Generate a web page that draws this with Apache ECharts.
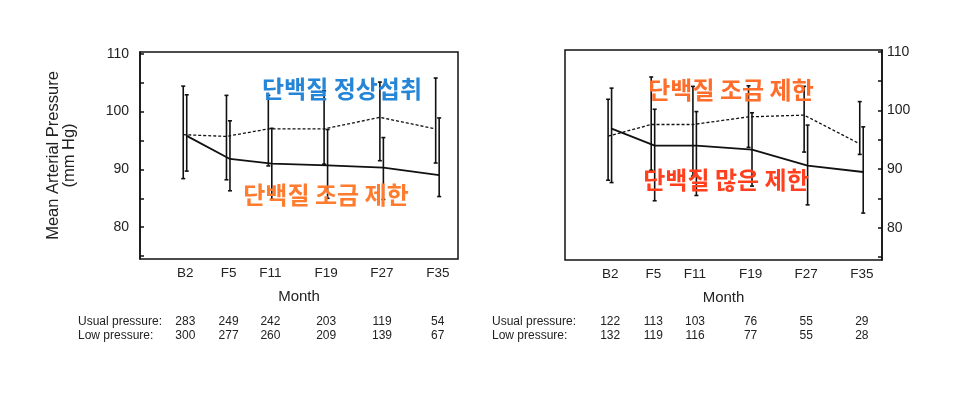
<!DOCTYPE html>
<html>
<head>
<meta charset="utf-8">
<script src="https://cdn.jsdelivr.net/npm/echarts@6/dist/echarts.min.js"></script>
<style>
  html, body { margin: 0; padding: 0; background: #fff; }
  #chart { width: 962px; height: 397px; }
</style>
</head>
<body>
<div id="chart"></div>
<script>
// 시점 (x축 위치는 개월 수)
const months = ['B2', 'F5', 'F11', 'F19', 'F27', 'F35'];
const monthX = [-1.2, 5, 11, 19, 27, 35];

// 왼쪽: 단백질 정상섭취(점선) / 단백질 조금 제한(실선)
const leftDashMean = [96, 95.7, 97, 97, 99, 97];
const leftDashLow = [88.4, 88.2, 90.6, 90.9, 91.5, 91.1];
const leftDashHigh = [104.4, 102.8, 102.8, 103.6, 105.1, 105.8];
const leftSolidMean = [95.8, 91.8, 91, 90.7, 90.3, 89];
const leftSolidLow = [89.7, 86.3, 84.8, 85, 84.8, 85.3];
const leftSolidHigh = [102.9, 98.4, 97.1, 96.9, 95.5, 98.9];
const leftUsualN = [283, 249, 242, 203, 119, 54];
const leftLowN = [300, 277, 260, 209, 139, 67];

// 오른쪽: 단백질 조금 제한(점선) / 단백질 많은 제한(실선)
const rightDashMean = [95.6, 97.6, 97.6, 98.9, 99.2, 94.3];
const rightDashLow = [88.1, 89.8, 88.8, 93.7, 92.9, 92.5];
const rightDashHigh = [101.9, 105.7, 104.1, 104.2, 104.1, 101.5];
const rightSolidMean = [96.9, 94.0, 94.0, 93.3, 90.6, 89.5];
const rightSolidLow = [87.7, 84.6, 85.5, 87.1, 83.9, 82.5];
const rightSolidHigh = [103.8, 100.2, 99.8, 99.6, 97.5, 97.2];
const rightUsualN = [122, 113, 103, 76, 55, 29];
const rightLowN = [132, 119, 116, 77, 55, 28];

const yTicks = [75, 80, 85, 90, 95, 100, 105, 110];
const yLabels = [80, 90, 100, 110];

const FONT = '"Liberation Sans", Arial, Helvetica, sans-serif';
const INK = '#111';

const chart = echarts.init(document.getElementById('chart'));

const errorBarItem = (params, api) => {
  const x = api.value(0);
  const lo = api.coord([x, api.value(1)]);
  const hi = api.coord([x, api.value(2)]);
  const cap = 2;
  const style = { stroke: INK, lineWidth: 1.6 };
  return {
    type: 'group',
    children: [
      { type: 'line', shape: { x1: lo[0], y1: lo[1], x2: hi[0], y2: hi[1] }, style },
      { type: 'line', shape: { x1: lo[0] - cap, y1: lo[1], x2: lo[0] + cap, y2: lo[1] }, style },
      { type: 'line', shape: { x1: hi[0] - cap, y1: hi[1], x2: hi[0] + cap, y2: hi[1] }, style },
    ],
  };
};

const pts = (mean, shift) => monthX.map((x, i) => [x + shift, mean[i]]);
const bars = (low, high, shift) => monthX.map((x, i) => [x + shift, low[i], high[i]]);

const makeSeries = (axis, dashMean, dashLow, dashHigh, solidMean, solidLow, solidHigh) => [
  {
    type: 'line', xAxisIndex: axis, yAxisIndex: axis / 3,
    data: pts(dashMean, -0.3), symbol: 'none', silent: true,
    lineStyle: { color: INK, width: 1.3, type: [3, 2] },
  },
  {
    type: 'line', xAxisIndex: axis, yAxisIndex: axis / 3,
    data: pts(solidMean, 0.2), symbol: 'none', silent: true,
    lineStyle: { color: INK, width: 1.8 },
  },
  {
    type: 'custom', xAxisIndex: axis, yAxisIndex: axis / 3,
    renderItem: errorBarItem, encode: { x: 0, y: [1, 2] }, silent: true,
    data: bars(dashLow, dashHigh, -0.3),
  },
  {
    type: 'custom', xAxisIndex: axis, yAxisIndex: axis / 3,
    renderItem: errorBarItem, encode: { x: 0, y: [1, 2] }, silent: true,
    data: bars(solidLow, solidHigh, 0.2),
  },
];

// x축: 월 표시 + 아래 두 줄의 인원수
const monthAxis = (grid) => ({
  type: 'value', gridIndex: grid, min: -7.7, max: 37.9,
  axisLine: { show: false, onZero: false }, axisTick: { show: false }, splitLine: { show: false },
  axisLabel: {
    customValues: monthX, margin: 7, color: '#222', fontFamily: FONT, fontSize: 13.5,
    formatter: (v) => months[monthX.indexOf(v)],
  },
  name: 'Month', nameLocation: 'middle', nameGap: 30,
  nameTextStyle: { color: '#222', fontFamily: FONT, fontSize: 15 },
});
const countAxis = (grid, counts, offset) => ({
  type: 'value', gridIndex: grid, min: -7.7, max: 37.9, position: 'bottom', offset,
  axisLine: { show: false, onZero: false }, axisTick: { show: false }, splitLine: { show: false },
  axisLabel: {
    customValues: monthX, margin: 6, color: '#222', fontFamily: FONT, fontSize: 12,
    formatter: (v) => counts[monthX.indexOf(v)],
  },
});
const pressureAxis = (grid, pos, margin) => ({
  type: 'value', gridIndex: grid, position: pos, min: 74.5, max: 110.3,
  axisLine: { show: true, onZero: false, lineStyle: { color: INK, width: 1.5 } },
  axisTick: { show: true, inside: true, length: 4, customValues: yTicks, lineStyle: { color: INK, width: 1.5 } },
  splitLine: { show: false },
  axisLabel: { customValues: yLabels, margin, color: '#222', fontFamily: FONT, fontSize: 14 },
});

const rowLabel = (x, y, text) => ({
  type: 'text', left: x, top: y,
  style: { text, fill: '#222', font: '12px ' + FONT },
});
const note = (x, y, text, color) => ({
  type: 'text', x, y,
  style: {
    text, fill: color, align: 'center', verticalAlign: 'middle',
    font: 'bold 24px "Noto Sans CJK KR", sans-serif',
  },
  z: 100,
});

const leftY = pressureAxis(0, 'left', 11);
leftY.name = 'Mean Arterial Pressure\n(mm Hg)';
leftY.nameLocation = 'middle';
leftY.nameGap = 63;
leftY.nameTextStyle = { color: '#222', fontFamily: FONT, fontSize: 16.5, lineHeight: 16 };

chart.setOption({
  backgroundColor: '#fff',
  animation: false,
  grid: [
    { left: 140, top: 52, width: 318, height: 207, show: true, borderColor: INK, borderWidth: 1.5, backgroundColor: 'transparent' },
    { left: 565, top: 50, width: 317, height: 210, show: true, borderColor: INK, borderWidth: 1.5, backgroundColor: 'transparent' },
  ],
  xAxis: [
    monthAxis(0), countAxis(0, leftUsualN, 51), countAxis(0, leftLowN, 65),
    monthAxis(1), countAxis(1, rightUsualN, 50), countAxis(1, rightLowN, 64),
  ],
  yAxis: [leftY, pressureAxis(1, 'right', 5)],
  series: [
    ...makeSeries(0, leftDashMean, leftDashLow, leftDashHigh, leftSolidMean, leftSolidLow, leftSolidHigh),
    ...makeSeries(3, rightDashMean, rightDashLow, rightDashHigh, rightSolidMean, rightSolidLow, rightSolidHigh),
  ],
  graphic: [
    rowLabel(78, 316, 'Usual pressure:'),
    rowLabel(78, 330, 'Low pressure:'),
    rowLabel(492, 316, 'Usual pressure:'),
    rowLabel(492, 330, 'Low pressure:'),
    note(342, 89, '단백질 정상섭취', '#2585d6'),
    note(326, 195, '단백질 조금 제한', '#ff7b2e'),
    note(731, 90, '단백질 조금 제한', '#ff6d2a'),
    note(726, 180, '단백질 많은 제한', '#ff3f1d'),
  ],
});
</script>
</body>
</html>
